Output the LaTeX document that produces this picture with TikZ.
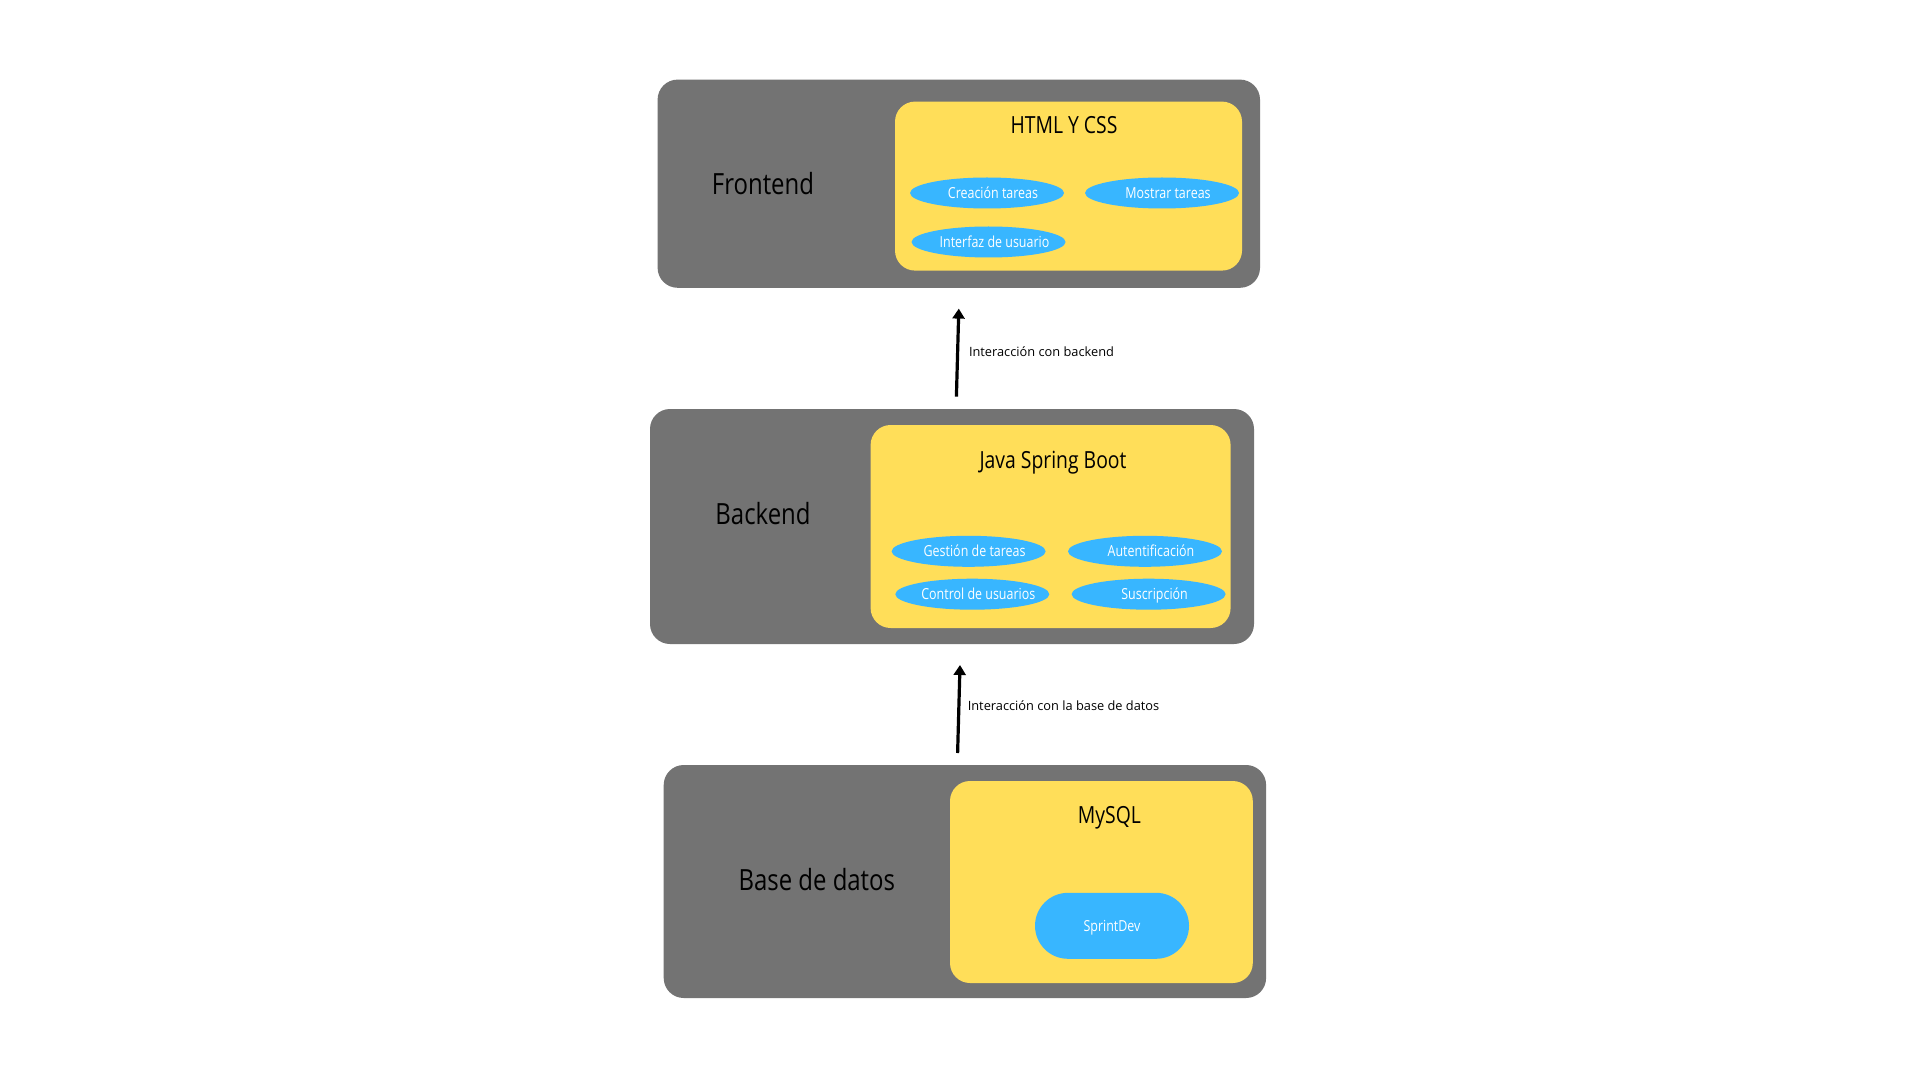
\documentclass[tikz,border=0pt]{standalone}
\usepackage{fontspec}
\setmainfont{Open Sans}
\newfontfamily\narrowfont{Open Sans}[FakeStretch=0.82]
\usepackage{xcolor}
\usepackage{tikz}
\usetikzlibrary{positioning}
\usetikzlibrary{shapes,arrows,arrows.meta}
\usetikzlibrary{calc}

\begin{document}
\begin{tikzpicture}
    [%%%%%%%%%%%%%%%%%%%%%%%%%%%%%%
        x=0.5pt, y=-0.5pt,
        layer/.style={rectangle,fill=layergray,rounded corners=10pt,inner sep=0pt},
        tech/.style={rectangle,fill=techyellow,rounded corners=10pt,inner sep=0pt},
        partname/.style={text=white,inner sep=0pt,xshift=3pt,text height=5.3pt,text depth=0pt,font=\narrowfont\fontsize{7.6}{9}\selectfont},
        part/.style={ellipse,fill=partblue,minimum width=77pt,minimum height=15.5pt,inner sep=0pt,label={[partname]center:#1}},
        bigname/.style={font=\narrowfont\fontsize{14.6}{17}\selectfont},
        techname/.style={font=\narrowfont\fontsize{11.8}{14}\selectfont},
        flow/.style={-{Triangle[length=5pt,width=6pt]},line width=1.6pt},
        flowname/.style={anchor=west,inner sep=0pt,font=\fontsize{6.4}{8}\selectfont}
    ]%%%%%%%%%%%%%%%%%%%%%%%%%%%%%%
\definecolor{layergray}{HTML}{737373}
\definecolor{techyellow}{HTML}{FFDE59}
\definecolor{partblue}{HTML}{38B6FF}
\useasboundingbox[fill=white] (0,0) rectangle (1920,1080);

% Frontend
\node[layer,minimum width=301.2pt,minimum height=104.1pt] (front) at (958.8,183.7){};
\node[tech,minimum width=173.5pt,minimum height=84.5pt] (html) at (1068.5,186.1){};
\node[bigname] (frontname) at (763,184){Frontend};
\node[techname] (htmlname) at (1064,125.5){HTML Y CSS};
\node[part=Creación tareas] (crea) at (987,193){};
\node[part=Mostrar tareas] (most) at (1162,193){};
\node[part=Interfaz de usuario] (inter) at (988.5,242){};

% Backend
\node[layer,minimum width=302pt,minimum height=117.5pt] (back) at (952,526.5){};
\node[tech,minimum width=180pt,minimum height=101.5pt] (spring) at (1050.6,526.5){};
\node[bigname] (backname) at (763,513.5){Backend};
\node[techname] (springname) at (1053,462.5){Java Spring Boot};
\node[part=Gestión de tareas] (gest) at (968.6,551.3){};
\node[part=Autentificación] (auten) at (1145,551.3){};
\node[part=Control de usuarios] (contr) at (972.3,594.2){};
\node[part=Suscripción] (susc) at (1148.6,594.2){};

% Base de datos
\node[layer,minimum width=301.2pt,minimum height=116.5pt] (base) at (964.9,881.5){};
\node[tech,minimum width=151.4pt,minimum height=101pt] (mysql) at (1101.4,882){};
\node[bigname] (basename) at (816.8,879.5){Base de datos};
\node[techname] (mysqlname) at (1109.4,817.8){MySQL};
\node[rectangle,fill=partblue,rounded corners=16.5pt,minimum width=77pt,minimum height=33pt,inner sep=0pt] (sprint) at (1112,925.8){};
\node[partname,xshift=-3pt] (sprintname) at (sprint.center){SprintDev};

% flechas
\coordinate (upA) at (956.4,396.7);
\coordinate (upB) at (958.8,308.6);
\coordinate (dbA) at (957.6,753);
\coordinate (dbB) at (960,665);
\draw [flow] (upA) -- (upB);
\draw [flow] (dbA) -- (dbB);
\node[flowname] (upname) at (968.6,351.4){Interacción con backend};
\node[flowname] (dbname) at (967.4,705.3){Interacción con la base de datos};

\end{tikzpicture}
\end{document}
